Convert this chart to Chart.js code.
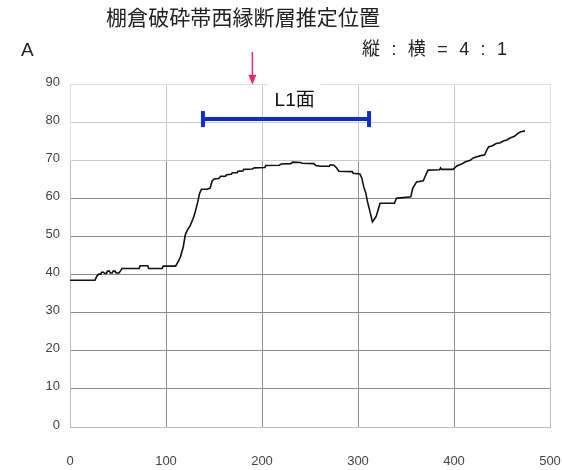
<!DOCTYPE html>
<html>
<head>
<meta charset="utf-8">
<script src="https://cdn.jsdelivr.net/npm/chart.js@4/dist/chart.umd.min.js"></script>
<style>
  html, body { margin: 0; padding: 0; background: #fff; }
  #wrap { width: 562px; height: 470px; position: relative; }
</style>
</head>
<body>
<div id="wrap"><canvas id="profile-chart"></canvas></div>
<script>
// texts
const titleText = '棚倉破砕帯西縁断層推定位置';
const sectionText = 'A';
const ratioText = '縦 : 横 = 4 : 1';
const rangeText = 'L1面';

// ticks
const xTicks = [0, 100, 200, 300, 400, 500];
const yTicks = [0, 10, 20, 30, 40, 50, 60, 70, 80, 90];

// profile (distance, elevation)
const profileX = [0, 26, 28, 30, 32, 33, 35, 36, 38, 39, 41, 42, 44, 45, 47, 48, 51, 53, 54, 72,
  73, 81, 82, 96, 97, 110, 113, 115, 118, 120, 121, 123, 125, 128, 130, 133, 135, 137, 143, 146,
  148, 150, 155, 157, 162, 163, 168, 169, 174, 175, 180, 181, 190, 192, 203, 204, 218, 220, 230, 232,
  240, 242, 254, 256, 261, 270, 271, 275, 278, 280, 294, 295, 302, 304, 306, 308, 310, 313, 315, 317,
  319, 321, 323, 338, 340, 355, 357, 361, 368, 370, 373, 385, 386, 387, 399, 403, 408, 412, 417, 420,
  424, 428, 432, 434, 436, 440, 444, 448, 452, 455, 459, 463, 466, 469, 472, 474];
const profileY = [38.5, 38.5, 39.6, 40.1, 40.1, 40.6, 40.6, 40.3, 40.3, 40.9, 40.9, 40.4, 40.4, 40.9, 40.9, 40.4, 40.4, 41.1, 41.6, 41.6,
  42.3, 42.3, 41.6, 41.6, 42.2, 42.2, 43.5, 44.6, 47.3, 50.3, 51.0, 52.0, 52.7, 54.5, 56.0, 59.0, 61.3, 62.4, 62.4, 62.7,
  64.5, 65.1, 65.2, 65.8, 65.8, 66.2, 66.3, 66.7, 66.7, 67.1, 67.2, 67.6, 67.7, 68.0, 68.1, 68.6, 68.7, 69.0, 69.1, 69.5,
  69.4, 69.2, 69.1, 68.6, 68.4, 68.4, 68.8, 68.7, 67.9, 67.1, 67.0, 66.6, 66.4, 65.3, 63.0, 61.5, 59.0, 56.0, 53.8, 54.5,
  55.3, 57.0, 58.7, 58.7, 60.0, 60.4, 62.6, 64.3, 64.6, 65.8, 67.4, 67.5, 68.0, 67.6, 67.6, 68.5, 69.0, 69.6, 70.0, 70.6,
  70.9, 71.2, 71.4, 72.6, 73.5, 73.8, 74.4, 74.6, 75.1, 75.3, 75.9, 76.3, 76.9, 77.4, 77.6, 77.7];

// annotations
const rangeStart = 138.5;
const rangeEnd = 311.5;
const rangeLevel = 80.8;
const rangeLabelAt = [234, 85.5];
const arrowX = 190;
const arrowFrom = 98.4;
const arrowTo = 89.8;
const fadeBand = [70, 90];

const cjk = '"Liberation Sans", "Noto Sans CJK JP", sans-serif';

function fitText(ctx, text, left, width) {
  ctx.letterSpacing = '0px';
  const w = ctx.measureText(text).width;
  const gap = (width - w) / (text.length - 1);
  ctx.letterSpacing = gap + 'px';
  ctx.textAlign = 'left';
  ctx.fillText(text, left, ctx.__y);
  ctx.letterSpacing = '0px';
}

const extras = {
  id: 'extras',
  beforeDatasetsDraw(chart) {
    const { ctx, chartArea, scales } = chart;
    const top = scales.y.getPixelForValue(fadeBand[1]);
    const bottom = scales.y.getPixelForValue(fadeBand[0]);
    ctx.save();
    ctx.fillStyle = 'rgba(255,255,255,0.55)';
    ctx.fillRect(chartArea.left - 1, top - 1, chartArea.right - chartArea.left + 2, bottom - top + 2);
    ctx.restore();
  },
  afterDatasetsDraw(chart) {
    const { ctx, scales } = chart;
    const x = scales.x, y = scales.y;
    ctx.save();

    // label box
    ctx.font = '19px ' + cjk;
    const lx = x.getPixelForValue(rangeLabelAt[0]);
    const ly = y.getPixelForValue(rangeLabelAt[1]);
    const lw = ctx.measureText(rangeText).width;
    ctx.fillStyle = '#fff';
    ctx.fillRect(lx - lw / 2 - 6, y.getPixelForValue(90) - 1, lw + 12, ly - y.getPixelForValue(90) + 12);
    ctx.fillStyle = '#111';
    ctx.textAlign = 'center';
    ctx.textBaseline = 'middle';
    ctx.fillText(rangeText, lx, ly);

    // arrow
    const ax = x.getPixelForValue(arrowX);
    const a0 = y.getPixelForValue(arrowFrom);
    const a1 = y.getPixelForValue(arrowTo);
    ctx.strokeStyle = '#e8286e';
    ctx.fillStyle = '#e8286e';
    ctx.lineWidth = 1.5;
    ctx.beginPath();
    ctx.moveTo(ax, a0);
    ctx.lineTo(ax, a1 - 8);
    ctx.stroke();
    ctx.beginPath();
    ctx.moveTo(ax - 4, a1 - 10);
    ctx.lineTo(ax + 4, a1 - 10);
    ctx.lineTo(ax, a1);
    ctx.closePath();
    ctx.fill();

    // header texts
    ctx.fillStyle = '#222';
    ctx.textBaseline = 'middle';
    ctx.font = '21px ' + cjk;
    ctx.__y = 19;
    fitText(ctx, titleText, 106, 274);
    ctx.font = '18px ' + cjk;
    ctx.__y = 50;
    fitText(ctx, ratioText, 362, 145);
    ctx.font = '19px "Liberation Sans", sans-serif';
    ctx.textAlign = 'left';
    ctx.fillText(sectionText, 21, 51);
    ctx.restore();
  }
};

const edgeGrid = (edges) => (c) => edges.includes(c.tick && c.tick.value) ? '#bcbcbc' : '#8c8c8c';

new Chart(document.querySelector('#profile-chart').getContext('2d'), {
  type: 'line',
  data: {
    datasets: [
      {
        label: 'profile',
        data: profileX.map((v, i) => ({ x: v, y: profileY[i] })),
        borderColor: '#111',
        borderWidth: 1.6,
        pointRadius: 0,
        tension: 0
      },
      {
        label: 'L1',
        data: [{ x: rangeStart, y: rangeLevel }, { x: rangeEnd, y: rangeLevel }],
        borderColor: '#0b2fcf',
        borderWidth: 4,
        pointStyle: 'line',
        rotation: 90,
        pointRadius: 8,
        pointBorderWidth: 4,
        pointBorderColor: '#0b2fcf'
      }
    ]
  },
  options: {
    responsive: true,
    maintainAspectRatio: false,
    animation: false,
    layout: { padding: { top: 84, right: 12, left: 0, bottom: 0 } },
    plugins: { legend: { display: false }, tooltip: { enabled: false } },
    scales: {
      x: {
        type: 'linear',
        min: xTicks[0],
        max: xTicks[xTicks.length - 1],
        afterFit: s => { s.height = 43; s.paddingLeft = 0; s.paddingRight = 0; },
        afterBuildTicks: s => { s.ticks = xTicks.map(v => ({ value: v })); },
        grid: { color: edgeGrid([0, 500]), drawTicks: false },
        border: { color: '#bcbcbc' },
        ticks: { padding: 27, maxRotation: 0, color: '#444', font: { family: '"Liberation Sans", sans-serif', size: 13 } }
      },
      y: {
        min: yTicks[0],
        max: yTicks[yTicks.length - 1],
        afterFit: s => { s.width = 70; s.paddingTop = 0; s.paddingBottom = 0; },
        afterBuildTicks: s => { s.ticks = yTicks.map(v => ({ value: v })); },
        grid: { color: edgeGrid([0, 90]), drawTicks: false },
        border: { color: '#bcbcbc' },
        ticks: { padding: 10, labelOffset: -2, color: '#444', font: { family: '"Liberation Sans", sans-serif', size: 13 } }
      }
    }
  },
  plugins: [extras]
});
</script>
</body>
</html>
